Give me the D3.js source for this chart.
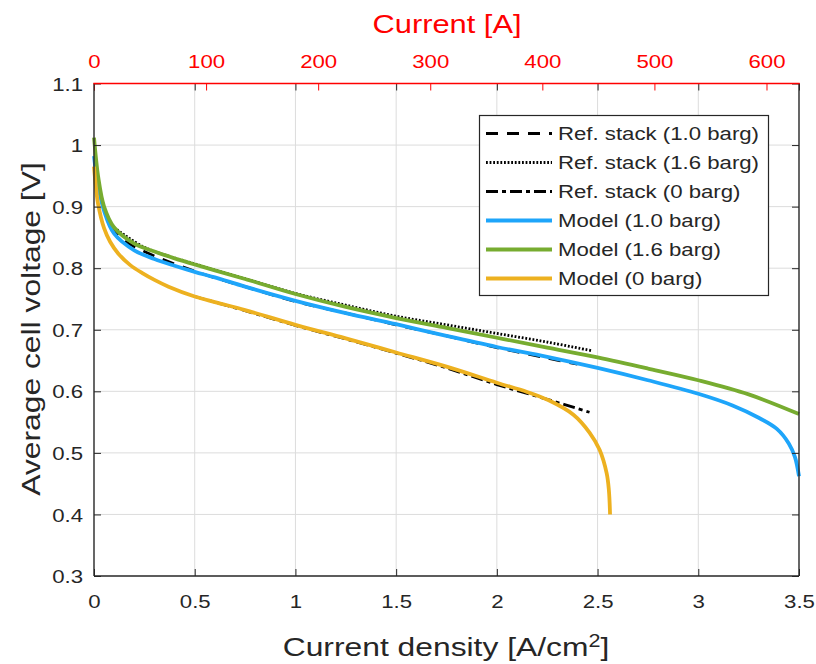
<!DOCTYPE html>
<html>
<head>
<meta charset="utf-8">
<script src="https://cdn.jsdelivr.net/npm/d3@7"></script>
<style>
  html, body { margin: 0; padding: 0; background: #ffffff; }
  svg { display: block; font-family: "Liberation Sans", Arial, Helvetica, sans-serif; }
</style>
</head>
<body>
<svg id="chart" width="816" height="664"></svg>
<script>
// ---------------- DATA ----------------
const xTicks = [0, 0.5, 1, 1.5, 2, 2.5, 3, 3.5];
const xTickLabels = ["0", "0.5", "1", "1.5", "2", "2.5", "3", "3.5"];
const yTicks = [0.3, 0.4, 0.5, 0.6, 0.7, 0.8, 0.9, 1.0, 1.1];
const yTickLabels = ["0.3", "0.4", "0.5", "0.6", "0.7", "0.8", "0.9", "1", "1.1"];
const currentTicks = [0, 100, 200, 300, 400, 500, 600];
const currentTickLabels = ["0", "100", "200", "300", "400", "500", "600"];
const currentMax = 629;

const seriesNames = ["Ref. stack (1.0 barg)", "Ref. stack (1.6 barg)", "Ref. stack (0 barg)",
                     "Model (1.0 barg)", "Model (1.6 barg)", "Model (0 barg)"];

// [current density A/cm2, cell voltage V]
const refStack10 = [[0.08,0.868],[0.15,0.845],[0.25,0.827],[0.5,0.795],[0.75,0.770],[1.0,0.746],
  [1.25,0.727],[1.5,0.708],[1.75,0.690],[2.0,0.671],[2.25,0.654],[2.4,0.644]];
const refStack16 = [[0.1,0.866],[0.25,0.834],[0.5,0.807],[0.75,0.783],[1.0,0.759],[1.25,0.740],
  [1.5,0.722],[1.75,0.708],[2.0,0.694],[2.25,0.680],[2.47,0.666]];
const refStack0 = [[0.5,0.754],[0.75,0.731],[1.0,0.707],[1.25,0.685],[1.5,0.662],[1.75,0.638],
  [2.0,0.611],[2.25,0.587],[2.46,0.566]];

const model10 = [[0,0.982],[0.01,0.955],[0.02,0.935],[0.05,0.893],[0.1,0.856],[0.2,0.829],
  [0.3,0.815],[0.4,0.804],[0.5,0.794],[0.6,0.785],[0.75,0.770],[1.0,0.747],[1.25,0.727],
  [1.5,0.709],[1.75,0.690],[2.0,0.672],[2.25,0.656],[2.5,0.638],[2.75,0.618],[3.0,0.596],
  [3.17,0.577],[3.3,0.557],[3.39,0.539],[3.45,0.515],[3.48,0.493],[3.5,0.462]];
const model16 = [[0,1.012],[0.01,0.978],[0.02,0.950],[0.05,0.900],[0.1,0.866],[0.2,0.840],
  [0.3,0.827],[0.4,0.816],[0.5,0.806],[0.6,0.7965],[0.75,0.7825],[1.0,0.758],[1.25,0.737],
  [1.5,0.719],[1.75,0.703],[2.0,0.687],[2.25,0.671],[2.5,0.655],[2.75,0.637],[3.0,0.618],
  [3.25,0.595],[3.5,0.563]];
const model0 = [[0,0.965],[0.01,0.930],[0.02,0.905],[0.05,0.865],[0.08,0.843],[0.12,0.824],
  [0.18,0.805],[0.24,0.792],[0.3,0.781],[0.37,0.770],[0.5,0.754],[0.6,0.745],[0.75,0.732],
  [1.0,0.708],[1.25,0.686],[1.5,0.663],[1.75,0.640],[2.0,0.614],[2.15,0.599],[2.26,0.585],
  [2.38,0.562],[2.46,0.533],[2.51,0.505],[2.545,0.467],[2.556,0.440],[2.562,0.400]];

// ---------------- LAYOUT ----------------
const L = 94, R = 799, T = 83.5, B = 576;
const SX = 1.2; // horizontal text stretch
const ink = "#262626";

const svg = d3.select("#chart");
const x = d3.scaleLinear().domain([0, 3.5]).range([L, R]);
const xc = d3.scaleLinear().domain([0, currentMax]).range([L, R]);
const y = d3.scaleLinear().domain([0.3, 1.1]).range([B, T]);

// grid
const grid = svg.append("g");
grid.selectAll("line.gx").data(xTicks.slice(1, -1)).join("line")
  .attr("x1", d => x(d)).attr("x2", d => x(d)).attr("y1", T).attr("y2", B)
  .attr("stroke", "#dcdcdc").attr("stroke-width", 1);
grid.selectAll("line.gy").data(yTicks.slice(1, -1)).join("line")
  .attr("x1", L).attr("x2", R).attr("y1", d => y(d)).attr("y2", d => y(d))
  .attr("stroke", "#dcdcdc").attr("stroke-width", 1);

// series
const styles = [
  { data: refStack10, color: "#000", width: 2.8, dash: "12,9" },
  { data: refStack16, color: "#000", width: 2.8, dash: "1.8,1.8" },
  { data: refStack0,  color: "#000", width: 2.8, dash: "12,4,4,4" },
  { data: model10, color: "#1ea5fa", width: 3.8, dash: null },
  { data: model16, color: "#77ac30", width: 3.8, dash: null },
  { data: model0,  color: "#edb120", width: 3.8, dash: null }
];
const line = d3.line().x(d => x(d[0])).y(d => y(d[1])).curve(d3.curveCatmullRom.alpha(0.5));
svg.append("g").selectAll("path").data(styles).join("path")
  .attr("d", s => line(s.data))
  .attr("fill", "none")
  .attr("stroke", s => s.color)
  .attr("stroke-width", s => s.width)
  .attr("stroke-dasharray", s => s.dash)
  .attr("stroke-linejoin", "round");

// axes
function styleAxis(g, color) {
  g.select(".domain").remove();
  g.selectAll(".tick line").attr("stroke", color).attr("stroke-width", 1);
  g.selectAll(".tick text").attr("fill", color)
    .style("font-family", '"Liberation Sans", Arial, sans-serif')
    .style("font-size", "18.5px");
}
const gB = svg.append("g").attr("transform", `translate(0,${B})`)
  .call(d3.axisBottom(x).tickValues(xTicks).tickFormat((d, i) => xTickLabels[i]).tickSize(-7).tickSizeOuter(0));
styleAxis(gB, ink);
gB.selectAll(".tick text").attr("y", 0).attr("dy", null)
  .attr("transform", `translate(0,32) scale(${SX},1)`);

const gT = svg.append("g").attr("transform", `translate(0,${T})`)
  .call(d3.axisTop(x).tickValues(xTicks).tickFormat("").tickSize(-7).tickSizeOuter(0));
styleAxis(gT, ink);

const gL = svg.append("g").attr("transform", `translate(${L},0)`)
  .call(d3.axisLeft(y).tickValues(yTicks).tickFormat((d, i) => yTickLabels[i]).tickSize(-7).tickSizeOuter(0));
styleAxis(gL, ink);
gL.selectAll(".tick text").attr("x", 0).attr("dy", "0.36em").attr("text-anchor", "end")
  .attr("transform", `translate(-11,0) scale(${SX},1)`);

const gR = svg.append("g").attr("transform", `translate(${R},0)`)
  .call(d3.axisRight(y).tickValues(yTicks).tickFormat("").tickSize(-7).tickSizeOuter(0));
styleAxis(gR, ink);

const gC = svg.append("g").attr("transform", `translate(0,${T})`)
  .call(d3.axisTop(xc).tickValues(currentTicks).tickFormat((d, i) => currentTickLabels[i]).tickSize(-7).tickSizeOuter(0));
styleAxis(gC, "#ff0000");
gC.selectAll(".tick text").attr("y", 0).attr("dy", null)
  .attr("transform", `translate(0,-15.5) scale(${SX},1)`);

// box lines
svg.append("line").attr("x1", L).attr("x2", L).attr("y1", T).attr("y2", B).attr("stroke", ink).attr("stroke-width", 1.4);
svg.append("line").attr("x1", R).attr("x2", R).attr("y1", T).attr("y2", B).attr("stroke", ink).attr("stroke-width", 1.4);
svg.append("line").attr("x1", L).attr("x2", R).attr("y1", B).attr("y2", B).attr("stroke", ink).attr("stroke-width", 1.4);
svg.append("line").attr("x1", L - 0.7).attr("x2", R + 0.7).attr("y1", T).attr("y2", T).attr("stroke", "#ff0000").attr("stroke-width", 1.6);

// axis titles
const xl = svg.append("text")
  .attr("transform", `translate(446,656) scale(${SX},1)`)
  .attr("text-anchor", "middle").attr("fill", ink)
  .style("font-size", "26.5px");
xl.append("tspan").text("Current density [A/cm");
xl.append("tspan").attr("dy", "-0.5em").style("font-size", "18px").text("2");
xl.append("tspan").attr("dy", "0.34em").text("]");

svg.append("text")
  .attr("transform", `translate(40,329) rotate(-90) scale(${SX},1)`)
  .attr("text-anchor", "middle").attr("fill", ink)
  .style("font-size", "26.5px")
  .text("Average cell voltage [V]");

svg.append("text")
  .attr("transform", `translate(447,33) scale(${SX},1)`)
  .attr("text-anchor", "middle").attr("fill", "#ff0000")
  .style("font-size", "25.7px")
  .text("Current [A]");

// legend
const lgX = 479, lgY = 115, lgW = 289, lgH = 180, rowH = 29, row0 = 133.5;
const lg = svg.append("g");
lg.append("rect").attr("x", lgX + 0.5).attr("y", lgY + 0.5).attr("width", lgW).attr("height", lgH)
  .attr("fill", "#fff").attr("stroke", ink).attr("stroke-width", 1.2);
const rows = lg.selectAll("g.row").data(styles).join("g")
  .attr("transform", (d, i) => `translate(0,${row0 + i * rowH})`);
rows.append("line").attr("x1", 486).attr("x2", 552).attr("y1", 0).attr("y2", 0)
  .attr("stroke", s => s.color).attr("stroke-width", s => s.width)
  .attr("stroke-dasharray", s => s.dash);
rows.append("text")
  .attr("transform", `translate(558,6.6) scale(${SX},1)`)
  .attr("fill", ink).style("font-size", "18.5px")
  .text((d, i) => seriesNames[i]);
</script>
</body>
</html>
